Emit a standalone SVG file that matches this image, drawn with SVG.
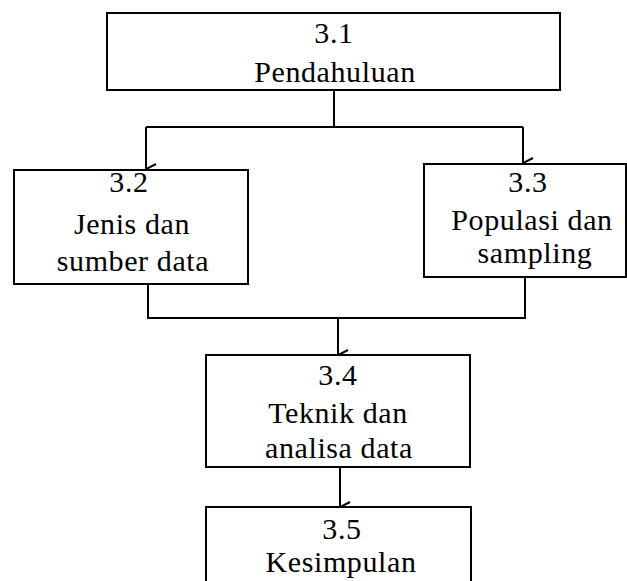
<svg xmlns="http://www.w3.org/2000/svg" width="627" height="581" viewBox="0 0 627 581">
  <defs>
    <marker id="arrow" viewBox="0 0 14 16" refX="7" refY="15" markerWidth="14" markerHeight="16" markerUnits="userSpaceOnUse" orient="auto">
      <path d="M2,5 L7,15 L12,2" fill="none" stroke="#000" stroke-width="2"/>
    </marker>
  </defs>
  <style>
    .box { fill: #fff; stroke: #000; stroke-width: 2; }
    .wire { fill: none; stroke: #000; stroke-width: 2; }
    text { font-family: "Liberation Serif", "Times New Roman", serif; font-size: 30px; fill: #000; text-anchor: middle; letter-spacing: 0.6px; }
  </style>
  <rect width="627" height="581" fill="#fff"/>

  <g id="connectors">
    <!-- 3.1 splits to 3.2 and 3.3 -->
    <path class="wire" d="M334,90 V127"/>
    <path class="wire" d="M146,127 H523"/>
    <path class="wire" d="M146,127 V169" marker-end="url(#arrow)"/>
    <path class="wire" d="M523,127 V163" marker-end="url(#arrow)"/>
    <!-- 3.2 and 3.3 join into 3.4 -->
    <path class="wire" d="M148,284 V318 H525 V277"/>
    <path class="wire" d="M338,317 V355" marker-end="url(#arrow)"/>
    <!-- 3.4 to 3.5 -->
    <path class="wire" d="M340,467 V507" marker-end="url(#arrow)"/>
  </g>

  <g id="node-3-1">
    <rect class="box" x="107" y="13" width="453" height="77"/>
    <text x="334" y="43">3.1</text>
    <text x="335" y="82">Pendahuluan</text>
  </g>

  <g id="node-3-2">
    <rect class="box" x="14" y="170" width="234" height="114"/>
    <text x="129" y="192">3.2</text>
    <text x="132" y="234">Jenis dan</text>
    <text x="133" y="271">sumber data</text>
  </g>

  <g id="node-3-3">
    <rect class="box" x="424" y="164" width="202" height="113"/>
    <text x="528" y="192">3.3</text>
    <text x="532" y="230">Populasi dan</text>
    <text x="535" y="263">sampling</text>
  </g>

  <g id="node-3-4">
    <rect class="box" x="206" y="355" width="264" height="112"/>
    <text x="338" y="385">3.4</text>
    <text x="338" y="423">Teknik dan</text>
    <text x="339" y="458">analisa data</text>
  </g>

  <g id="node-3-5">
    <rect class="box" x="206" y="507" width="265" height="90"/>
    <text x="342" y="539">3.5</text>
    <text x="341" y="572">Kesimpulan</text>
  </g>
</svg>
